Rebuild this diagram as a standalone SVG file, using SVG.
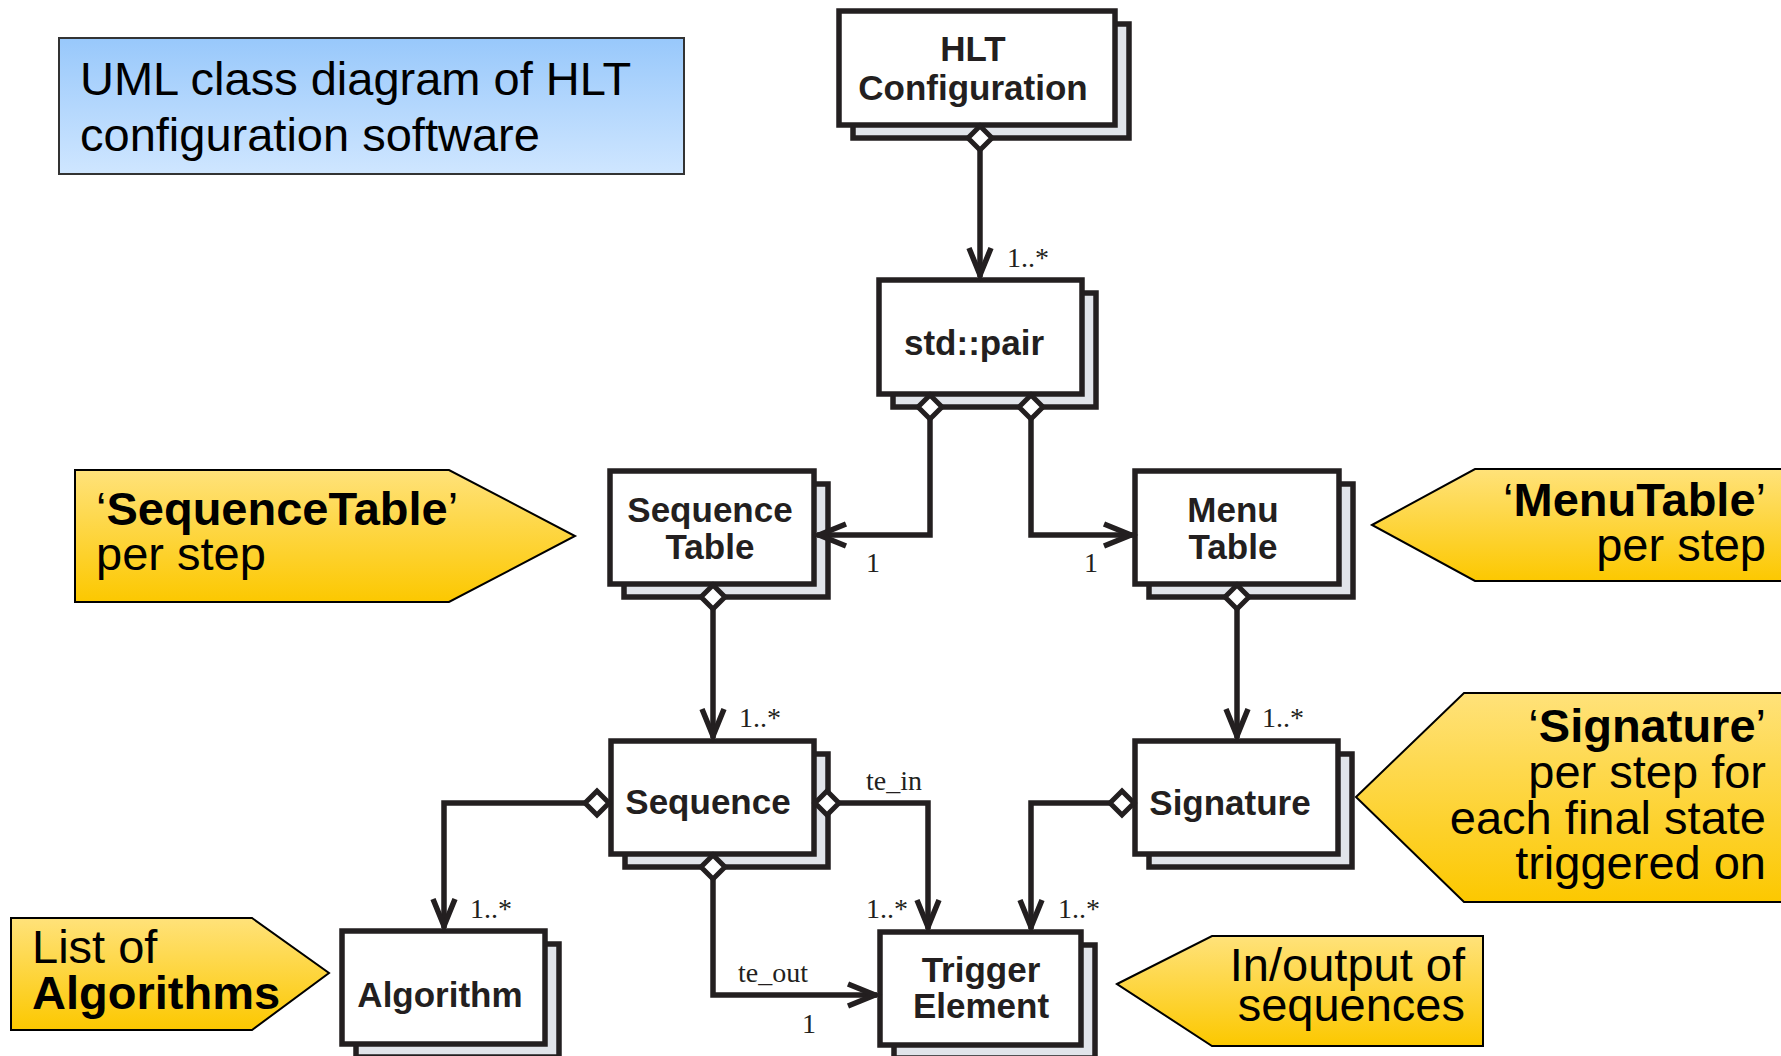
<svg xmlns="http://www.w3.org/2000/svg" xmlns:xlink="http://www.w3.org/1999/xlink" width="1781" height="1056" viewBox="0 0 1781 1056">
<style>
.front{fill:#ffffff;stroke:#231f20;stroke-width:5.5}
.shadow{fill:#e1e4ea;stroke:#231f20;stroke-width:5.5}
.nl{font-family:"Liberation Sans",Arial,sans-serif;font-weight:bold;font-size:35px;fill:#231f20;text-anchor:middle}
.lbl{font-family:"Liberation Serif","Times New Roman",serif;font-size:28px;fill:#231f20}
.conn{fill:none;stroke:#231f20;stroke-width:5.5;stroke-linejoin:miter}
.dia{fill:#ffffff;stroke:#231f20;stroke-width:5}
.call{stroke:#000;stroke-width:2;fill:url(#gy)}
.ct{font-family:"Liberation Sans",Arial,sans-serif;font-size:47px;fill:#000}
.b{font-weight:bold}
</style>
<defs>
<linearGradient id="gb" x1="0" y1="0" x2="0" y2="1"><stop offset="0" stop-color="#98c8fb"/><stop offset="1" stop-color="#cfe6ff"/></linearGradient>
<linearGradient id="gy" x1="0" y1="0" x2="0" y2="1"><stop offset="0" stop-color="#ffe27a"/><stop offset="1" stop-color="#fcc800"/></linearGradient>
<marker id="arr" markerUnits="userSpaceOnUse" viewBox="-34 -16 38 32" refX="0" refY="0" markerWidth="38" markerHeight="32" orient="auto" overflow="visible">
<path d="M-29,-11 L-2,0 L-29,11" fill="none" stroke="#231f20" stroke-width="5.5" stroke-linejoin="miter"/>
</marker>
<path id="d" d="M0,-12 L12,0 L0,12 L-12,0 Z"/>
</defs>
<rect width="1781" height="1056" fill="#ffffff"/>

<g id="title">
<rect x="59" y="38" width="625" height="136" fill="url(#gb)" stroke="#333" stroke-width="2"/>
<text class="ct" x="80" y="95">UML class diagram of HLT</text>
<text class="ct" x="80" y="151">configuration software</text>
</g>

<g id="note-sequencetable">
<polygon class="call" points="75,470 449,470 575,536 449,602 75,602"/>
<text class="ct" x="96" y="525">‘<tspan class="b">SequenceTable</tspan>’</text>
<text class="ct" x="96" y="570">per step</text>
</g>
<g id="note-menutable">
<polygon class="call" points="1372,525 1475,469 1795,469 1795,581 1475,581"/>
<text class="ct" x="1766" y="516" text-anchor="end">‘<tspan class="b">MenuTable</tspan>’</text>
<text class="ct" x="1766" y="561" text-anchor="end">per step</text>
</g>
<g id="note-signature">
<polygon class="call" points="1356,797 1464,693 1795,693 1795,902 1464,902"/>
<text class="ct" x="1766" y="742" text-anchor="end">‘<tspan class="b">Signature</tspan>’</text>
<text class="ct" x="1766" y="788" text-anchor="end">per step for</text>
<text class="ct" x="1766" y="834" text-anchor="end">each final state</text>
<text class="ct" x="1766" y="879" text-anchor="end">triggered on</text>
</g>
<g id="note-algorithms">
<polygon class="call" points="11,918 252,918 329,973 252,1030 11,1030"/>
<text class="ct" x="32" y="963">List of</text>
<text class="ct b" x="32" y="1009">Algorithms</text>
</g>
<g id="note-te">
<polygon class="call" points="1117,984 1212,936 1483,936 1483,1046 1212,1046"/>
<text class="ct" x="1465" y="981" text-anchor="end">In/output of</text>
<text class="ct" x="1465" y="1021" text-anchor="end">sequences</text>
</g>

<g id="hlt">
<rect class="shadow" x="853" y="24" width="276" height="114"/>
<rect class="front" x="839" y="11" width="276" height="114"/>
<text class="nl" x="973" y="61">HLT</text>
<text class="nl" x="973" y="100">Configuration</text>
</g>
<g id="stdpair">
<rect class="shadow" x="893" y="293" width="203" height="114"/>
<rect class="front" x="879" y="280" width="203" height="114"/>
<text class="nl" x="974" y="355">std::pair</text>
</g>
<g id="sequencetable">
<rect class="shadow" x="624" y="484" width="204" height="113"/>
<rect class="front" x="610" y="471" width="204" height="113"/>
<text class="nl" x="710" y="522">Sequence</text>
<text class="nl" x="710" y="559">Table</text>
</g>
<g id="menutable">
<rect class="shadow" x="1149" y="484" width="204" height="113"/>
<rect class="front" x="1135" y="471" width="204" height="113"/>
<text class="nl" x="1233" y="522">Menu</text>
<text class="nl" x="1233" y="559">Table</text>
</g>
<g id="sequence">
<rect class="shadow" x="625" y="754" width="203" height="113"/>
<rect class="front" x="611" y="741" width="203" height="113"/>
<text class="nl" x="708" y="814">Sequence</text>
</g>
<g id="signature">
<rect class="shadow" x="1149" y="754" width="203" height="113"/>
<rect class="front" x="1135" y="741" width="203" height="113"/>
<text class="nl" x="1230" y="815">Signature</text>
</g>
<g id="algorithm">
<rect class="shadow" x="356" y="944" width="203" height="113"/>
<rect class="front" x="342" y="931" width="203" height="113"/>
<text class="nl" x="440" y="1007">Algorithm</text>
</g>
<g id="triggerelement">
<rect class="shadow" x="894" y="945" width="201" height="113"/>
<rect class="front" x="880" y="932" width="201" height="113"/>
<text class="nl" x="981" y="982">Trigger</text>
<text class="nl" x="981" y="1018">Element</text>
</g>

<g id="connectors">
<path class="conn" d="M980,150 V277" marker-end="url(#arr)"/>
<use href="#d" class="dia" x="980" y="138"/>
<text class="lbl" x="1007" y="267">1..*</text>

<path class="conn" d="M930,419 V535 H817" marker-end="url(#arr)"/>
<use href="#d" class="dia" x="930" y="407"/>
<text class="lbl" x="866" y="572">1</text>

<path class="conn" d="M1031,419 V535 H1133" marker-end="url(#arr)"/>
<use href="#d" class="dia" x="1031" y="407"/>
<text class="lbl" x="1084" y="572">1</text>

<path class="conn" d="M713,609 V738" marker-end="url(#arr)"/>
<use href="#d" class="dia" x="713" y="597"/>
<text class="lbl" x="739" y="727">1..*</text>

<path class="conn" d="M1237,609 V738" marker-end="url(#arr)"/>
<use href="#d" class="dia" x="1237" y="597"/>
<text class="lbl" x="1262" y="727">1..*</text>

<path class="conn" d="M585,803 H444 V928" marker-end="url(#arr)"/>
<use href="#d" class="dia" x="597" y="803"/>
<text class="lbl" x="470" y="918">1..*</text>

<path class="conn" d="M839,803 H928 V929" marker-end="url(#arr)"/>
<use href="#d" class="dia" x="827" y="803"/>
<text class="lbl" x="866" y="790">te_in</text>
<text class="lbl" x="866" y="918">1..*</text>

<path class="conn" d="M713,879 V995 H877" marker-end="url(#arr)"/>
<use href="#d" class="dia" x="713" y="867"/>
<text class="lbl" x="738" y="982">te_out</text>
<text class="lbl" x="802" y="1033">1</text>

<path class="conn" d="M1110,803 H1031 V929" marker-end="url(#arr)"/>
<use href="#d" class="dia" x="1122" y="803"/>
<text class="lbl" x="1058" y="918">1..*</text>
</g>
</svg>
